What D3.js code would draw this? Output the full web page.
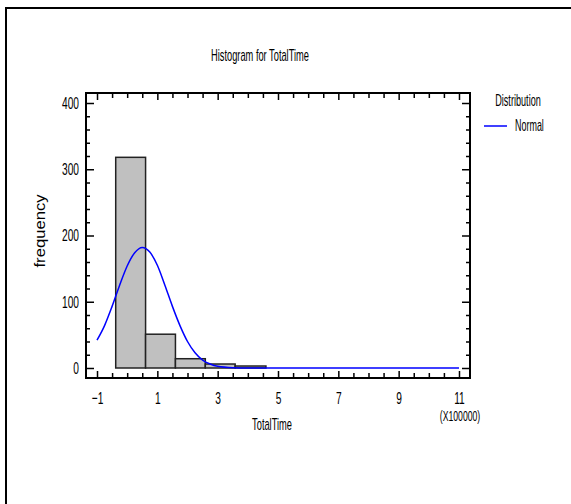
<!DOCTYPE html>
<html>
<head>
<meta charset="utf-8">
<script src="https://cdn.jsdelivr.net/npm/d3@7"></script>
<style>
  body { margin: 0; background: #fff; }
  text { font-family: "Liberation Sans", Arial, sans-serif; fill: #000; }
</style>
</head>
<body>
<div id="chart"></div>
<script>
// histogram bins (x in units of 100000)
var binEdges = [-0.38, 0.61, 1.60, 2.59, 3.58, 4.60];
var binCounts = [318, 51, 14, 6, 3];

// fitted normal curve
var curveX = [-1, -0.75, -0.5, -0.25, 0, 0.25, 0.5, 0.75, 1, 1.25, 1.5, 1.75, 2, 2.25, 2.5, 2.75, 3, 3.5, 4, 5, 11];
var curveY = [42, 64, 93, 125, 154, 174, 182, 175, 155, 125, 93, 64, 40, 23, 12, 6, 2.5, 0.4, 0, 0, 0];

var xMajor = [-1, 1, 3, 5, 7, 9, 11];
var yMajor = [0, 100, 200, 300, 400];

var W = 571, H = 504;
var plot = {left: 86, right: 470, top: 93, bottom: 378};
var squeeze = 0.6;

var svg = d3.select("#chart").append("svg")
    .attr("width", W).attr("height", H);

// outer border (only top and left are visible)
svg.append("path")
    .attr("d", "M6,504 L6,8 L571,8")
    .attr("fill", "none").attr("stroke", "#000").attr("stroke-width", 2);

var x = d3.scaleLinear().domain([-1.365, 11.365]).range([plot.left, plot.right]);
var y = d3.scaleLinear().domain([-15.1, 415.1]).range([plot.bottom, plot.top]);

// narrow text: scale horizontally around its anchor point
function narrowText(px, py, k, size, anchor, str) {
    return svg.append("text")
        .attr("transform", "translate(" + px + "," + py + ") scale(" + k + ",1)")
        .attr("text-anchor", anchor)
        .style("font-size", size + "px")
        .text(str);
}

var xMinor = d3.range(-1, 11.01, 0.5).filter(function(v){ return xMajor.indexOf(v) < 0; });
var yMinor = d3.range(0, 401, 20).filter(function(v){ return yMajor.indexOf(v) < 0; });

function styleAxis(g) {
    g.attr("font-size", null).attr("font-family", null);
    g.select(".domain").remove();
    g.selectAll(".tick line").attr("stroke", "#000").attr("stroke-width", 1.5);
    g.selectAll(".tick text").style("font-size", "17px").attr("fill", "#000");
}

// bars
svg.append("g").selectAll("rect")
    .data(binCounts)
    .enter().append("rect")
    .attr("x", function(d, i) { return x(binEdges[i]); })
    .attr("y", function(d) { return y(d); })
    .attr("width", function(d, i) { return x(binEdges[i + 1]) - x(binEdges[i]); })
    .attr("height", function(d) { return y(0) - y(d); })
    .attr("fill", "#c0c0c0")
    .attr("stroke", "#222")
    .attr("stroke-width", 1.5);

// normal curve
var line = d3.line()
    .x(function(d, i) { return x(curveX[i]); })
    .y(function(d) { return y(d); })
    .curve(d3.curveMonotoneX);

svg.append("path")
    .attr("d", line(curveY))
    .attr("fill", "none")
    .attr("stroke", "#0000ff")
    .attr("stroke-width", 1.5);

// axes
var gb = svg.append("g").attr("transform", "translate(0," + plot.bottom + ")")
    .call(d3.axisBottom(x).tickValues(xMajor).tickSize(-7).tickPadding(14).tickFormat(d3.format("d")));
gb.call(styleAxis);
gb.selectAll(".tick text").attr("transform", "scale(" + squeeze + ",1)");
svg.append("g").attr("transform", "translate(0," + plot.bottom + ")")
    .call(d3.axisBottom(x).tickValues(xMinor).tickSize(-5).tickFormat(""))
    .call(styleAxis);

svg.append("g").attr("transform", "translate(0," + plot.top + ")")
    .call(d3.axisTop(x).tickValues(xMajor).tickSize(-7).tickFormat(""))
    .call(styleAxis);
svg.append("g").attr("transform", "translate(0," + plot.top + ")")
    .call(d3.axisTop(x).tickValues(xMinor).tickSize(-5).tickFormat(""))
    .call(styleAxis);

var gl = svg.append("g").attr("transform", "translate(" + plot.left + ",0)")
    .call(d3.axisLeft(y).tickValues(yMajor).tickSize(-8).tickPadding(7));
gl.call(styleAxis);
gl.selectAll(".tick text")
    .attr("x", -7 / squeeze)
    .attr("transform", "scale(" + squeeze + ",1)");
svg.append("g").attr("transform", "translate(" + plot.left + ",0)")
    .call(d3.axisLeft(y).tickValues(yMinor).tickSize(-4).tickFormat(""))
    .call(styleAxis);

svg.append("g").attr("transform", "translate(" + plot.right + ",0)")
    .call(d3.axisRight(y).tickValues(yMajor).tickSize(-8).tickFormat(""))
    .call(styleAxis);
svg.append("g").attr("transform", "translate(" + plot.right + ",0)")
    .call(d3.axisRight(y).tickValues(yMinor).tickSize(-4).tickFormat(""))
    .call(styleAxis);

// plot frame
svg.append("rect")
    .attr("x", plot.left).attr("y", plot.top)
    .attr("width", plot.right - plot.left).attr("height", plot.bottom - plot.top)
    .attr("fill", "none").attr("stroke", "#000").attr("stroke-width", 2);

// texts
narrowText(260, 61, 0.58, 16, "middle", "Histogram for TotalTime");
narrowText(272, 430, 0.58, 16, "middle", "TotalTime");
narrowText(460, 421, 0.62, 14, "middle", "(X100000)");

svg.append("text")
    .attr("transform", "translate(45,231) rotate(-90)")
    .attr("text-anchor", "middle")
    .style("font-size", "14px")
    .attr("textLength", 73)
    .attr("lengthAdjust", "spacingAndGlyphs")
    .text("frequency");

// legend
narrowText(518, 106, 0.57, 16, "middle", "Distribution");

svg.append("line")
    .attr("x1", 484).attr("x2", 507)
    .attr("y1", 126).attr("y2", 126)
    .attr("stroke", "#0000ff").attr("stroke-width", 1.5);

narrowText(515, 131, 0.56, 16, "start", "Normal");
</script>
</body>
</html>
